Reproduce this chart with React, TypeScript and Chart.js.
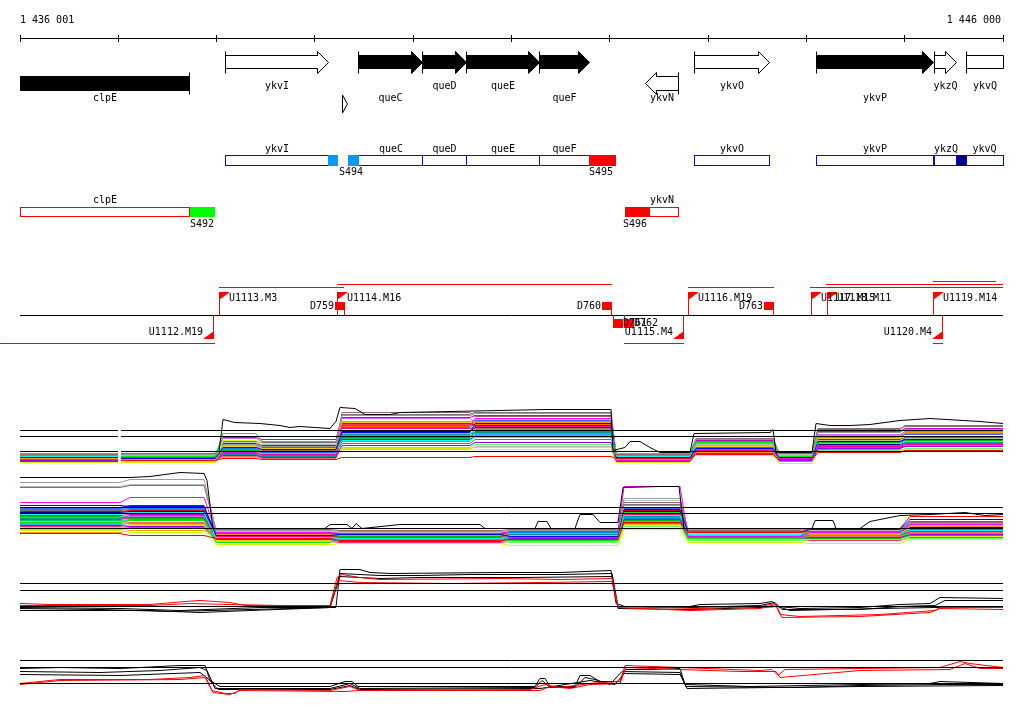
import React, { useEffect, useRef } from "react";
import { Chart, registerables } from "chart.js";

Chart.register(...registerables);

// ---------------- genome window ----------------
const VIEW_START = 1436001;
const VIEW_END = 1446000;
const RULER_TICKS = [1436001, 1437000, 1438000, 1439000, 1440000, 1441000, 1442000, 1443000, 1444000, 1445000, 1446000];
const RULER_START_LABEL = "1 436 001";
const RULER_END_LABEL = "1 446 000";

// ---------------- genes ----------------
const GENE_NAMES = ["clpE", "ykvI", "queC", "queD", "queE", "queF", "ykvN", "ykvO", "ykvP", "ykzQ", "ykvQ"];
const GENE_STARTS = [1435500, 1438096, 1439449, 1440100, 1440538, 1441290, 1442359, 1442867, 1444098, 1445308, 1445624];
const GENE_ENDS = [1437730, 1439134, 1440100, 1440538, 1441290, 1441789, 1442704, 1443620, 1445298, 1445532, 1446500];
const GENE_STRANDS = ["-", "+", "+", "+", "+", "+", "-", "+", "+", "+", "+"];
const GENE_ESSENTIAL = [true, false, true, true, true, true, false, false, true, false, false];
const GENE_LABEL_TIER = [1, 0, 1, 0, 0, 1, 1, 0, 1, 0, 0];

const MISC_STARTS = [1439276];
const MISC_ENDS = [1439327];

// ---------------- segments ----------------
const SEG_NAMES = ["S492", "S494", "", "S495", "S496", ""];
const SEG_STARTS = [1437730, 1439134, 1439338, 1441789, 1442155, 1445532];
const SEG_ENDS = [1437985, 1439236, 1439449, 1442064, 1442409, 1445624];
const SEG_STRANDS = ["-", "+", "+", "+", "-", "+"];
const SEG_LABEL_AT = [1437730, 1439246, 1439338, 1441789, 1442135, 1445532];
const SEG_COLORS = ["#00ff00", "#0099ff", "#0099ff", "#ff0000", "#ff0000", "#000080"];

// ---------------- transcription units ----------------
const UP_NAMES = ["U1112.M19", "U1113.M3", "U1114.M16", "U1115.M4", "U1116.M19", "U1117.M15", "U1118.M11", "U1119.M14", "U1120.M4"];
const UP_POS = [1437974, 1438025, 1439226, 1442755, 1442796, 1444047, 1444210, 1445288, 1445390];
const UP_STRANDS = ["-", "+", "+", "-", "+", "+", "+", "+", "-"];

const DOWN_NAMES = ["D759", "D760", "D761", "D762", "D763"];
const DOWN_POS = [1439307, 1442023, 1442033, 1442145, 1443671];
const DOWN_STRANDS = ["+", "+", "-", "-", "+"];

const TX_STARTS = [1435800, 1438025, 1439226, 1442145, 1442796, 1444037, 1444199, 1445288, 1445288];
const TX_ENDS = [1437985, 1439297, 1442023, 1442755, 1443671, 1446000, 1446000, 1445929, 1445390];
const TX_STRANDS = ["-", "+", "+", "-", "+", "+", "+", "+", "-"];
const TX_TIER = [0, 0, 1, 0, 0, 0, 1, 2, 0];

// ---------------- expression panels ----------------
const REF_LEVELS_AB = [10.1, 9.5, 8.0];
const REF_LEVELS_CD = [10.3, 9.6, 8.0];
const GAP_A = 1437013;
const REF_A_POS = [VIEW_START, 1436998, GAP_A, 1437028, VIEW_END];

const PALETTE = ["#ff0000", "#00ee00", "#0000ff", "#ff00ff", "#00ffff", "#ccff00", "#ff9900", "#999999", "#996666", "#0080ff",
  "#9900ff", "#ff0099", "#00bb00", "#ffcc00", "#bbbbbb", "#009999", "#ff6666", "#000099", "#cc66ff", "#66ff66",
  "#cc0000", "#00cc66", "#3366ff", "#cc00cc", "#66cccc", "#e6e600", "#ff6600", "#777777", "#aa7755", "#33aaff",
  "#6600cc", "#ff3366"];

// panel A (top strand profiles), levels per segment
const SEG_A_STARTS = [1436001, 1437028, 1438066, 1438463, 1439276, 1440629, 1442064, 1442877, 1443722, 1444118, 1445003];
const SEG_A_ENDS = [1436998, 1437985, 1438402, 1439215, 1440578, 1442013, 1442816, 1443661, 1444057, 1444952, 1446000];
const PANEL_A_LEVELS = [
  [7.0, 7.1, 7.3, 7.2, 7.4, 7.5, 7.3, 7.7, 7.2, 7.9, 8.1],
  [7.6, 7.5, 9.8, 9.0, 9.6, 10.2, 7.6, 8.9, 7.5, 9.4, 9.8],
  [7.4, 7.3, 8.4, 8.2, 9.9, 10.8, 7.4, 8.3, 7.4, 9.0, 9.2],
  [7.2, 7.1, 7.9, 7.6, 10.6, 11.3, 7.1, 8.0, 7.3, 8.6, 8.8],
  [7.5, 7.6, 8.6, 8.0, 9.1, 9.4, 7.5, 8.6, 7.6, 8.8, 9.0],
  [6.9, 7.0, 9.1, 8.8, 8.0, 8.2, 6.9, 7.6, 6.8, 8.0, 8.2],
  [7.3, 7.2, 8.0, 7.8, 11.0, 10.9, 7.2, 7.9, 7.2, 9.6, 9.9],
  [7.8, 7.7, 8.7, 8.5, 11.6, 11.8, 7.8, 8.8, 7.9, 9.9, 10.2],
  [7.7, 7.8, 8.2, 8.1, 11.9, 11.5, 7.7, 9.0, 7.8, 10.2, 10.6],
  [7.4, 7.5, 8.3, 7.9, 9.4, 10.0, 7.6, 8.4, 7.5, 8.6, 9.4],
  [7.1, 7.2, 7.6, 7.4, 8.6, 8.9, 7.0, 7.8, 7.1, 8.3, 8.5],
  [7.3, 7.4, 7.8, 7.7, 10.3, 10.5, 7.3, 8.1, 7.4, 8.5, 8.7],
  [7.5, 7.4, 8.1, 8.0, 8.8, 9.2, 7.5, 8.2, 7.6, 8.9, 9.1],
  [7.2, 7.3, 8.5, 8.3, 10.9, 11.2, 7.2, 8.5, 7.3, 9.3, 9.5],
  [7.6, 7.7, 8.9, 8.7, 8.2, 8.5, 7.8, 8.7, 7.7, 9.1, 9.3],
  [7.4, 7.3, 7.7, 7.5, 9.7, 9.9, 7.4, 8.0, 7.4, 8.4, 8.9],
  [7.0, 7.1, 7.5, 7.3, 9.0, 9.6, 7.1, 7.9, 7.0, 8.2, 8.6],
  [7.3, 7.2, 8.0, 7.9, 10.0, 10.4, 7.3, 8.1, 7.5, 8.7, 8.8],
  [7.7, 7.6, 9.3, 9.0, 11.3, 11.0, 7.6, 9.2, 7.7, 9.7, 10.0],
  [7.1, 7.0, 7.4, 7.6, 8.4, 8.7, 7.0, 7.7, 7.1, 8.1, 8.3],
  [7.2, 7.3, 8.8, 8.6, 10.8, 10.6, 7.4, 8.6, 7.3, 9.2, 9.4],
  [7.5, 7.4, 8.2, 7.8, 9.3, 9.8, 7.3, 8.3, 7.5, 8.7, 8.9],
  [7.3, 7.4, 8.6, 8.4, 10.4, 11.1, 7.5, 8.8, 7.4, 9.5, 9.7],
  [7.6, 7.5, 9.4, 9.2, 11.4, 11.6, 7.7, 9.1, 7.6, 10.0, 10.3],
  [7.4, 7.6, 8.0, 7.8, 9.8, 10.1, 7.5, 8.2, 7.4, 8.8, 9.1],
  [7.0, 6.9, 7.6, 7.4, 8.3, 8.4, 7.0, 7.7, 7.0, 8.0, 8.2],
  [7.2, 7.1, 8.3, 8.1, 10.5, 10.7, 7.2, 8.4, 7.3, 9.1, 9.3],
  [7.8, 7.8, 9.0, 8.9, 11.7, 11.9, 7.8, 9.3, 7.9, 10.3, 10.5],
  [7.5, 7.5, 8.5, 8.2, 10.1, 10.3, 7.5, 8.5, 7.5, 9.0, 9.2],
  [7.3, 7.3, 7.9, 7.7, 9.5, 9.7, 7.3, 8.0, 7.2, 8.5, 8.7],
  [7.1, 7.2, 7.7, 7.5, 9.2, 9.5, 7.1, 7.9, 7.1, 8.4, 8.6],
  [7.6, 7.7, 8.4, 8.3, 10.7, 10.9, 7.6, 8.9, 7.7, 9.6, 9.8],
];
const BLACK_A_POS = [1436001, 1436998, 1437013, 1437028, 1437964, 1438025, 1438066, 1438188, 1438442, 1438646, 1438747, 1438849,
  1439154, 1439215, 1439256, 1439409, 1439510, 1439765, 1439866, 1440884, 1441341, 1442013, 1442033, 1442155, 1442206, 1442308,
  1442409, 1442511, 1442816, 1442857, 1443630, 1443661, 1443691, 1444057, 1444098, 1444240, 1444444, 1444647, 1444952, 1445258,
  1445766, 1446000];
const BLACK_A_VAL = [8.0, 8.0, null, 8.0, 8.0, 8.0, 11.2, 10.9, 10.8, 10.6, 10.4, 10.5, 10.3, 11.0, 12.4, 12.3, 11.7, 11.7, 11.9,
  12.1, 12.2, 12.2, 8.1, 8.4, 9.0, 9.0, 8.4, 7.9, 7.9, 9.8, 9.9, 10.2, 7.9, 7.9, 10.8, 10.6, 10.6, 10.7, 11.1, 11.3, 11.0, 10.8];

// panel B (bottom strand profiles)
const SEG_B_STARTS = [1436001, 1437120, 1437995, 1439256, 1440985, 1442145, 1442796, 1444037, 1445054];
const SEG_B_ENDS = [1437018, 1437873, 1439154, 1440884, 1442084, 1442715, 1443935, 1444952, 1446000];
const PANEL_B_LEVELS = [
  [7.5, 7.3, 7.0, 6.8, 6.9, 8.6, 7.6, 8.0, 9.2],
  [8.6, 8.8, 6.6, 6.9, 6.8, 9.6, 7.0, 7.3, 7.5],
  [10.3, 10.2, 7.3, 7.4, 7.2, 9.9, 7.6, 7.9, 8.9],
  [10.6, 11.1, 7.6, 7.5, 7.7, 12.2, 7.2, 7.6, 8.4],
  [9.4, 9.6, 7.1, 7.0, 7.3, 9.3, 7.4, 7.5, 7.8],
  [7.8, 7.6, 6.4, 6.5, 6.3, 7.9, 6.6, 6.5, 6.9],
  [7.6, 7.8, 7.4, 7.3, 7.5, 10.1, 7.3, 7.4, 8.2],
  [12.6, 12.9, 7.8, 7.7, 7.8, 11.0, 7.9, 8.0, 8.5],
  [12.1, 12.3, 7.9, 7.8, 7.9, 10.6, 7.8, 8.0, 8.6],
  [9.9, 10.0, 7.5, 7.3, 7.6, 9.0, 7.7, 7.7, 8.7],
  [8.3, 8.2, 6.9, 6.7, 7.0, 8.9, 7.0, 7.1, 7.4],
  [8.9, 9.1, 7.2, 7.1, 7.3, 9.4, 7.2, 7.3, 7.7],
  [9.2, 9.0, 7.0, 7.2, 7.1, 8.8, 7.1, 7.0, 7.3],
  [8.0, 8.4, 6.8, 6.9, 6.7, 8.4, 7.5, 7.6, 8.0],
  [12.2, 12.4, 7.7, 7.6, 7.8, 10.8, 7.7, 7.8, 8.3],
  [9.0, 9.3, 7.3, 7.2, 7.4, 9.2, 7.4, 7.4, 7.9],
  [8.5, 8.6, 7.1, 7.0, 7.2, 8.7, 7.3, 7.2, 7.6],
  [9.6, 9.7, 7.4, 7.5, 7.4, 9.7, 7.5, 7.6, 8.1],
  [9.1, 9.2, 7.5, 7.6, 7.5, 10.3, 7.6, 7.8, 8.2],
  [7.9, 8.0, 6.7, 6.8, 6.6, 8.2, 6.8, 6.9, 7.0],
  [9.7, 9.8, 7.2, 7.3, 7.2, 9.8, 7.4, 7.5, 8.0],
  [8.8, 8.9, 7.0, 7.1, 6.9, 9.1, 7.2, 7.3, 7.6],
  [10.0, 10.1, 7.4, 7.4, 7.5, 10.0, 7.6, 7.7, 8.5],
  [9.3, 9.4, 7.3, 7.2, 7.3, 9.5, 7.3, 7.4, 7.9],
  [8.7, 8.8, 7.1, 7.0, 7.1, 8.9, 7.1, 7.2, 7.5],
  [8.1, 8.3, 6.8, 6.7, 6.8, 8.3, 6.9, 7.0, 7.2],
  [9.5, 9.6, 7.5, 7.4, 7.5, 9.6, 7.5, 7.6, 8.1],
  [9.8, 9.9, 7.6, 7.5, 7.6, 10.4, 7.7, 7.8, 8.4],
  [9.0, 9.1, 7.2, 7.3, 7.2, 9.3, 7.4, 7.3, 7.8],
  [8.4, 8.5, 6.9, 6.8, 6.9, 8.6, 7.0, 7.1, 7.4],
  [10.1, 10.3, 7.3, 7.5, 7.4, 9.9, 7.5, 7.6, 8.3],
  [8.2, 8.1, 6.7, 6.6, 6.7, 8.5, 6.9, 6.8, 7.1],
];
const BLACK_B_POS = [1436001, 1437120, 1437323, 1437629, 1437873, 1437903, 1437964, 1439103, 1439154, 1439327, 1439378, 1439419,
  1439480, 1439866, 1440680, 1440731, 1441240, 1441270, 1441361, 1441402, 1441646, 1441697, 1441830, 1441901, 1442084, 1442135,
  1442511, 1442704, 1442755, 1444057, 1444088, 1444271, 1444301, 1444545, 1444647, 1444952, 1445258, 1445614, 1445817, 1446000];
const BLACK_B_VAL = [13.1, 13.1, 13.2, 13.6, 13.5, 12.8, 8.0, 8.0, 8.4, 8.4, 8.0, 8.5, 8.0, 8.4, 8.4, 8.0, 8.0, 8.7, 8.7, 8.0,
  8.0, 9.4, 9.4, 8.6, 8.6, 12.1, 12.2, 12.2, 8.0, 8.0, 8.8, 8.8, 8.0, 8.0, 8.7, 9.3, 9.4, 9.6, 9.3, 9.4];

// panel C
const C_BLACK1_POS = [1436001, 1436815, 1437527, 1438341, 1439154, 1439215, 1439256, 1439459, 1439561, 1439765, 1440884, 1441494,
  1442013, 1442064, 1442155, 1442816, 1442918, 1443528, 1443650, 1443711, 1443935, 1444545, 1444952, 1445258, 1445359, 1446000];
const C_BLACK1_VAL = [7.8, 7.7, 7.5, 7.7, 7.9, 7.9, 11.7, 11.7, 11.4, 11.3, 11.4, 11.4, 11.6, 8.3, 8.0, 8.0, 8.2, 8.3, 8.5, 8.0,
  7.8, 7.9, 8.2, 8.3, 8.9, 8.8];
const C_BLACK2_POS = [1436001, 1437323, 1437832, 1438341, 1439154, 1439256, 1439663, 1440070, 1440578, 1441494, 1442023, 1442084,
  1442816, 1443528, 1443681, 1443752, 1444545, 1444952, 1445308, 1445410, 1446000];
const C_BLACK2_VAL = [7.6, 7.6, 7.4, 7.6, 7.9, 11.3, 11.1, 11.1, 11.2, 11.2, 11.3, 8.0, 7.9, 8.1, 8.4, 7.7, 7.7, 8.0, 8.1, 8.6, 8.6];
const C_BLACK3_POS = [1436001, 1437018, 1437629, 1438442, 1439154, 1439256, 1439663, 1440070, 1441087, 1442023, 1442084, 1442816,
  1443528, 1443711, 1443833, 1444749, 1445308, 1446000];
const C_BLACK3_VAL = [7.9, 7.8, 7.6, 7.9, 7.9, 11.0, 10.8, 10.9, 10.9, 11.0, 7.8, 7.7, 7.9, 8.0, 7.6, 7.8, 7.9, 8.0];
const C_RED1_POS = [1436001, 1436306, 1437323, 1437679, 1437832, 1438137, 1438290, 1439154, 1439226, 1439276, 1439459, 1439663,
  1440884, 1441494, 1442023, 1442084, 1442918, 1443528, 1443681, 1443732, 1443935, 1444749, 1445308, 1445359, 1446000];
const C_RED1_VAL = [8.3, 8.2, 8.2, 8.5, 8.6, 8.4, 8.1, 8.1, 10.9, 11.2, 10.9, 10.7, 10.8, 10.7, 10.8, 8.0, 7.8, 8.0, 8.3, 7.2,
  7.0, 7.2, 7.6, 7.9, 7.9];
const C_RED2_POS = [1436001, 1437323, 1437730, 1438137, 1439154, 1439236, 1439459, 1440375, 1441290, 1442023, 1442084, 1442816,
  1443528, 1443691, 1443752, 1444545, 1445258, 1445359, 1446000];
const C_RED2_VAL = [8.1, 8.1, 8.3, 8.2, 8.0, 10.6, 10.4, 10.3, 10.4, 10.5, 7.9, 7.6, 7.8, 8.2, 6.9, 7.0, 7.4, 7.8, 7.7];

// panel D
const D_BLACK1_POS = [1436001, 1436408, 1437018, 1437629, 1437883, 1437934, 1438035, 1439154, 1439307, 1439378, 1439439, 1441240,
  1441290, 1441341, 1441392, 1441646, 1441697, 1441799, 1441901, 1442104, 1442155, 1442409, 1442715, 1442765, 1443427, 1444545,
  1445258, 1445359, 1446000];
const D_BLACK1_VAL = [9.5, 9.6, 9.5, 9.8, 9.8, 8.3, 7.7, 7.7, 8.2, 8.2, 7.7, 7.7, 8.5, 8.5, 7.7, 7.7, 8.8, 8.8, 8.2, 8.2, 9.4,
  9.4, 9.5, 7.9, 7.7, 7.9, 8.0, 8.2, 8.0];
const D_BLACK2_POS = [1436001, 1436815, 1437425, 1437832, 1437903, 1437985, 1439154, 1439358, 1439459, 1441240, 1441311, 1441392,
  1441646, 1441748, 1441850, 1442002, 1442124, 1442715, 1442776, 1443935, 1444545, 1445359, 1446000];
const D_BLACK2_VAL = [9.2, 9.1, 9.3, 9.6, 9.3, 7.5, 7.5, 8.0, 7.5, 7.6, 8.3, 7.6, 7.6, 8.6, 8.4, 7.9, 9.2, 9.1, 7.7, 7.6, 7.8,
  7.9, 7.9];
const D_BLACK3_POS = [1436001, 1437018, 1437832, 1437913, 1438015, 1439154, 1439358, 1439459, 1441290, 1441799, 1442053, 1442145,
  1442715, 1442786, 1444545, 1446000];
const D_BLACK3_VAL = [8.9, 8.8, 9.1, 8.5, 7.4, 7.4, 7.8, 7.4, 7.5, 8.3, 7.9, 9.0, 8.9, 7.5, 7.7, 7.8];
const D_RED1_POS = [1436001, 1436204, 1436408, 1437323, 1437730, 1437883, 1437954, 1438086, 1438188, 1438239, 1439154, 1439358,
  1439459, 1441189, 1441341, 1441494, 1441646, 1441799, 1441901, 1442104, 1442155, 1442715, 1443528, 1443650, 1443711, 1443782,
  1444545, 1445359, 1445563, 1445664, 1446000];
const D_RED1_VAL = [8.0, 8.2, 8.4, 8.4, 8.6, 8.8, 7.3, 7.0, 7.0, 7.4, 7.3, 7.7, 7.3, 7.4, 7.9, 7.6, 7.8, 8.0, 8.1, 8.2, 9.8,
  9.6, 9.3, 9.4, 8.8, 9.4, 9.5, 9.6, 10.2, 10.0, 9.6];
const D_RED2_POS = [1436001, 1436408, 1437629, 1437883, 1437964, 1438137, 1438239, 1439307, 1439459, 1441290, 1441392, 1441596,
  1441799, 1442104, 1442165, 1442715, 1443325, 1443691, 1443732, 1444545, 1445461, 1445614, 1445766, 1446000];
const D_RED2_VAL = [7.9, 8.3, 8.4, 8.6, 7.1, 6.9, 7.3, 7.2, 7.3, 7.3, 7.7, 7.5, 7.9, 8.0, 9.6, 9.4, 9.2, 9.2, 8.6, 9.3, 9.4,
  10.0, 9.5, 9.5];

// ---------------- layout (pixels) ----------------
const CANVAS_W = 1024;
const CANVAS_H = 714;
const PAD_LEFT = 20;
const PAD_RIGHT = 21;
const ORIGIN_VALUE = 8.0;
const PX_PER_UNIT = 10;
const PANEL_ORIGIN_PX: Record<string, number> = { yA: 451.5, yB: 528.5, yC: 606.5, yD: 683.5 };
const FONT = "10px 'DejaVu Sans Mono', monospace";
const LY = {
  title: 20.5,
  ruler: 38,
  plusBody: [55, 68],
  plusHead: [51, 73],
  minusBody: [76, 90],
  minusHead: [72, 94],
  plusLabel: [86, 98],
  minusLabel: 98,
  headLen: 11,
  misc: [95, 113],
  boxPlus: [155, 166],
  boxPlusLabel: 149,
  segPlusLabel: 172,
  boxMinus: [207, 217],
  boxMinusLabel: 200.5,
  segMinusLabel: 224,
  tuLine: 315,
  txPlus: [287, 284, 281],
  txMinus: 343,
  flagTop: 292,
  flagBottom: 339,
  flagSize: [10, 8],
  downPlus: [302, 310],
  downMinus: [319, 328],
};

function axisRange(originPx: number) {
  const max = ORIGIN_VALUE + originPx / PX_PER_UNIT;
  return { min: max - CANVAS_H / PX_PER_UNIT, max };
}

const trackPlugin = {
  id: "genomeTracks",
  afterDraw(chart: any) {
    const ctx: CanvasRenderingContext2D = chart.ctx;
    const xs = chart.scales.x;
    const L = chart.chartArea.left;
    const R = chart.chartArea.right;
    const X = (v: number) => xs.getPixelForValue(v);
    const h = (v: number) => Math.round(v) + 0.5;
    ctx.save();
    ctx.font = FONT;
    ctx.textBaseline = "middle";
    ctx.lineWidth = 1;

    // ruler
    ctx.strokeStyle = "#000";
    ctx.beginPath();
    ctx.moveTo(L, h(LY.ruler));
    ctx.lineTo(R, h(LY.ruler));
    RULER_TICKS.forEach((t) => {
      const x = h(X(t) - 0.5);
      ctx.moveTo(x, LY.ruler - 3);
      ctx.lineTo(x, LY.ruler + 4);
    });
    ctx.stroke();
    ctx.fillStyle = "#000";
    ctx.textAlign = "left";
    ctx.fillText(RULER_START_LABEL, L, LY.title);
    ctx.textAlign = "right";
    ctx.fillText(RULER_END_LABEL, R - 2, LY.title);

    // gene arrows
    GENE_NAMES.forEach((name, i) => {
      const x1 = X(GENE_STARTS[i]);
      const x2 = X(GENE_ENDS[i]);
      const a = h(Math.max(x1, L) - 0.5);
      const b = h(Math.min(x2, R) - 0.5);
      const plus = GENE_STRANDS[i] === "+";
      const body = plus ? LY.plusBody : LY.minusBody;
      const head = plus ? LY.plusHead : LY.minusHead;
      const top = h(body[0]), bot = h(body[1]), ht = h(head[0]), hb = h(head[1]);
      const mid = (ht + hb) / 2;
      ctx.beginPath();
      if (plus) {
        if (x2 <= R + 0.5) {
          const hx = Math.max(a, b - LY.headLen);
          ctx.moveTo(a, top); ctx.lineTo(hx, top); ctx.lineTo(hx, ht); ctx.lineTo(b, mid);
          ctx.lineTo(hx, hb); ctx.lineTo(hx, bot); ctx.lineTo(a, bot); ctx.closePath();
        } else {
          ctx.rect(a, top, b - a, bot - top);
        }
      } else {
        if (x1 >= L - 0.5) {
          const hx = Math.min(b, a + LY.headLen);
          ctx.moveTo(b, top); ctx.lineTo(hx, top); ctx.lineTo(hx, ht); ctx.lineTo(a, mid);
          ctx.lineTo(hx, hb); ctx.lineTo(hx, bot); ctx.lineTo(b, bot); ctx.closePath();
        } else {
          ctx.rect(a, top, b - a, bot - top);
        }
      }
      ctx.fillStyle = GENE_ESSENTIAL[i] ? "#000" : "#fff";
      ctx.fill();
      ctx.strokeStyle = "#000";
      ctx.stroke();
      const tickX = plus ? x1 : x2;
      if (tickX >= L - 0.5 && tickX <= R + 0.5) {
        ctx.beginPath();
        const tx = h(tickX - 0.5);
        ctx.moveTo(tx, ht);
        ctx.lineTo(tx, hb);
        ctx.stroke();
      }
      ctx.fillStyle = "#000";
      ctx.textAlign = "center";
      const ly = plus ? LY.plusLabel[GENE_LABEL_TIER[i]] : LY.minusLabel;
      ctx.fillText(name, (a + b) / 2, ly);
    });

    // misc small features
    MISC_STARTS.forEach((s, i) => {
      const a = h(X(s)), b = h(X(MISC_ENDS[i]));
      ctx.beginPath();
      ctx.moveTo(a, LY.misc[0]);
      ctx.lineTo(b, (LY.misc[0] + LY.misc[1]) / 2);
      ctx.lineTo(a, LY.misc[1]);
      ctx.closePath();
      ctx.strokeStyle = "#000";
      ctx.stroke();
    });

    // feature boxes
    GENE_NAMES.forEach((name, i) => {
      const plus = GENE_STRANDS[i] === "+";
      const row = plus ? LY.boxPlus : LY.boxMinus;
      const a = h(Math.max(X(GENE_STARTS[i]), L) - 0.5);
      const b = h(Math.min(X(GENE_ENDS[i]), R) - 0.5);
      ctx.strokeStyle = plus ? "#0000ff" : "#ff0000";
      ctx.strokeRect(a, h(row[0]), b - a, row[1] - row[0] - 1);
    });
    SEG_NAMES.forEach((name, i) => {
      const plus = SEG_STRANDS[i] === "+";
      const row = plus ? LY.boxPlus : LY.boxMinus;
      const a = Math.round(X(SEG_STARTS[i]));
      const b = Math.round(X(SEG_ENDS[i]));
      ctx.fillStyle = SEG_COLORS[i];
      ctx.fillRect(a, row[0], b - a, row[1] - row[0]);
    });
    ctx.fillStyle = "#000";
    GENE_NAMES.forEach((name, i) => {
      const plus = GENE_STRANDS[i] === "+";
      const a = Math.max(X(GENE_STARTS[i]), L);
      const b = Math.min(X(GENE_ENDS[i]), R);
      ctx.textAlign = "center";
      ctx.fillText(name, (a + b) / 2, plus ? LY.boxPlusLabel : LY.boxMinusLabel);
    });
    SEG_NAMES.forEach((name, i) => {
      if (!name) return;
      const plus = SEG_STRANDS[i] === "+";
      ctx.textAlign = "left";
      ctx.fillText(name, X(SEG_LABEL_AT[i]), plus ? LY.segPlusLabel : LY.segMinusLabel);
    });

    // transcription-unit track
    ctx.strokeStyle = "#000";
    ctx.beginPath();
    ctx.moveTo(L, h(LY.tuLine));
    ctx.lineTo(R, h(LY.tuLine));
    ctx.stroke();

    ctx.strokeStyle = "#ff0000";
    ctx.beginPath();
    TX_STARTS.forEach((s, i) => {
      const y = TX_STRANDS[i] === "+" ? LY.txPlus[TX_TIER[i]] : LY.txMinus;
      ctx.moveTo(X(s), h(y));
      ctx.lineTo(X(TX_ENDS[i]), h(y));
    });
    ctx.stroke();

    // down-shifts (boxes)
    DOWN_NAMES.forEach((name, i) => {
      const x = Math.round(X(DOWN_POS[i]));
      ctx.fillStyle = "#ff0000";
      ctx.strokeStyle = "#ff0000";
      ctx.beginPath();
      if (DOWN_STRANDS[i] === "+") {
        ctx.fillRect(x - 10, LY.downPlus[0], 10, LY.downPlus[1] - LY.downPlus[0]);
        ctx.moveTo(x - 0.5, LY.downPlus[1]);
        ctx.lineTo(x - 0.5, LY.tuLine);
      } else {
        ctx.fillRect(x, LY.downMinus[0], 10, LY.downMinus[1] - LY.downMinus[0]);
        ctx.moveTo(x + 0.5, LY.tuLine);
        ctx.lineTo(x + 0.5, LY.downMinus[0]);
      }
      ctx.stroke();
    });

    // up-shifts (flags)
    UP_NAMES.forEach((name, i) => {
      const x = Math.round(X(UP_POS[i]));
      const [fw, fh] = LY.flagSize;
      ctx.strokeStyle = "#ff0000";
      ctx.fillStyle = "#ff0000";
      ctx.beginPath();
      if (UP_STRANDS[i] === "+") {
        ctx.moveTo(x + 0.5, LY.tuLine);
        ctx.lineTo(x + 0.5, LY.flagTop);
        ctx.stroke();
        ctx.beginPath();
        ctx.moveTo(x, LY.flagTop);
        ctx.lineTo(x + fw + 1, LY.flagTop);
        ctx.lineTo(x, LY.flagTop + fh);
        ctx.closePath();
        ctx.fill();
      } else {
        ctx.moveTo(x - 0.5, LY.tuLine);
        ctx.lineTo(x - 0.5, LY.flagBottom);
        ctx.stroke();
        ctx.beginPath();
        ctx.moveTo(x, LY.flagBottom);
        ctx.lineTo(x - fw - 1, LY.flagBottom);
        ctx.lineTo(x, LY.flagBottom - fh);
        ctx.closePath();
        ctx.fill();
      }
    });

    // labels
    ctx.fillStyle = "#000";
    DOWN_NAMES.forEach((name, i) => {
      const x = Math.round(X(DOWN_POS[i]));
      if (DOWN_STRANDS[i] === "+") {
        ctx.textAlign = "right";
        ctx.fillText(name, x - 11, (LY.downPlus[0] + LY.downPlus[1]) / 2);
      } else {
        ctx.textAlign = "left";
        ctx.fillText(name, x + 10, (LY.downMinus[0] + LY.downMinus[1]) / 2);
      }
    });
    UP_NAMES.forEach((name, i) => {
      const x = Math.round(X(UP_POS[i]));
      if (UP_STRANDS[i] === "+") {
        ctx.textAlign = "left";
        ctx.fillText(name, x + 10, LY.flagTop + 6);
      } else {
        ctx.textAlign = "right";
        ctx.fillText(name, x - 11, LY.flagBottom - 7);
      }
    });
    ctx.restore();
  },
};

function pairs(pos: number[], vals: (number | null)[]) {
  return pos.map((x, i) => ({ x, y: vals[i] }));
}

function stepSeries(starts: number[], ends: number[], levels: number[], gapAfter?: number, gapPos?: number) {
  const pts: { x: number; y: number | null }[] = [];
  levels.forEach((v, i) => {
    pts.push({ x: starts[i], y: v }, { x: ends[i], y: v });
    if (gapPos !== undefined && i === gapAfter) pts.push({ x: gapPos, y: null });
  });
  return pts;
}

function lineDs(data: any[], yAxisID: string, color: string) {
  return {
    type: "line" as const,
    data,
    xAxisID: "x",
    yAxisID,
    borderColor: color,
    backgroundColor: color,
    borderWidth: 1,
    pointRadius: 0,
    fill: false,
    tension: 0,
    spanGaps: false,
  };
}

function buildDatasets() {
  const ds: any[] = [];
  // reference lines (on top)
  REF_LEVELS_AB.forEach((v) => ds.push(lineDs(pairs(REF_A_POS, [v, v, null, v, v]), "yA", "#000")));
  REF_LEVELS_AB.forEach((v) => ds.push(lineDs(pairs([VIEW_START, VIEW_END], [v, v]), "yB", "#000")));
  REF_LEVELS_CD.forEach((v) => ds.push(lineDs(pairs([VIEW_START, VIEW_END], [v, v]), "yC", "#000")));
  REF_LEVELS_CD.forEach((v) => ds.push(lineDs(pairs([VIEW_START, VIEW_END], [v, v]), "yD", "#000")));
  // envelopes
  ds.push(lineDs(pairs(BLACK_A_POS, BLACK_A_VAL), "yA", "#000"));
  ds.push(lineDs(pairs(BLACK_B_POS, BLACK_B_VAL), "yB", "#000"));
  // panel C / D
  ds.push(lineDs(pairs(C_RED1_POS, C_RED1_VAL), "yC", "#ff0000"));
  ds.push(lineDs(pairs(C_RED2_POS, C_RED2_VAL), "yC", "#ff0000"));
  ds.push(lineDs(pairs(C_BLACK1_POS, C_BLACK1_VAL), "yC", "#000"));
  ds.push(lineDs(pairs(C_BLACK2_POS, C_BLACK2_VAL), "yC", "#000"));
  ds.push(lineDs(pairs(C_BLACK3_POS, C_BLACK3_VAL), "yC", "#000"));
  ds.push(lineDs(pairs(D_RED1_POS, D_RED1_VAL), "yD", "#ff0000"));
  ds.push(lineDs(pairs(D_RED2_POS, D_RED2_VAL), "yD", "#ff0000"));
  ds.push(lineDs(pairs(D_BLACK1_POS, D_BLACK1_VAL), "yD", "#000"));
  ds.push(lineDs(pairs(D_BLACK2_POS, D_BLACK2_VAL), "yD", "#000"));
  ds.push(lineDs(pairs(D_BLACK3_POS, D_BLACK3_VAL), "yD", "#000"));
  // colored profiles
  PANEL_A_LEVELS.forEach((lv, i) =>
    ds.push(lineDs(stepSeries(SEG_A_STARTS, SEG_A_ENDS, lv, 0, GAP_A), "yA", PALETTE[i % PALETTE.length]))
  );
  PANEL_B_LEVELS.forEach((lv, i) =>
    ds.push(lineDs(stepSeries(SEG_B_STARTS, SEG_B_ENDS, lv), "yB", PALETTE[i % PALETTE.length]))
  );
  return ds;
}

export default function App() {
  const ref = useRef<HTMLCanvasElement | null>(null);
  useEffect(() => {
    if (!ref.current) return;
    const yScales: any = {};
    Object.keys(PANEL_ORIGIN_PX).forEach((id) => {
      const r = axisRange(PANEL_ORIGIN_PX[id]);
      yScales[id] = { type: "linear", axis: "y", display: false, min: r.min, max: r.max };
    });
    const chart = new Chart(ref.current, {
      type: "line",
      data: { datasets: buildDatasets() },
      options: {
        responsive: false,
        animation: false,
        devicePixelRatio: 1,
        events: [],
        layout: { padding: { left: PAD_LEFT, right: PAD_RIGHT, top: 0, bottom: 0 } },
        plugins: { legend: { display: false }, tooltip: { enabled: false }, title: { display: false } },
        scales: {
          x: { type: "linear", display: false, min: VIEW_START, max: VIEW_END },
          ...yScales,
        },
      },
      plugins: [trackPlugin],
    } as any);
    return () => chart.destroy();
  }, []);
  return (
    <div style={{ position: "absolute", left: 0, top: 0, width: CANVAS_W, height: CANVAS_H, background: "#fff" }}>
      <canvas ref={ref} width={CANVAS_W} height={CANVAS_H} style={{ display: "block" }} />
    </div>
  );
}
